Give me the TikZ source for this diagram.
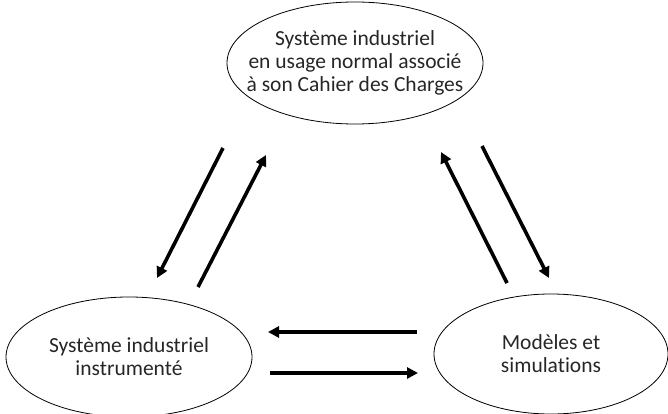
\documentclass[tikz,border=0pt]{standalone}
\usepackage{fontspec}
\setmainfont{Carlito}[Ligatures=NoCommon]
\usetikzlibrary{arrows.meta, shapes.geometric}

\tikzset{
  bulle/.style={inner sep=0pt, align=center,
    font=\fontsize{21.5pt}{23pt}\selectfont, text=black!85},
  contour/.style={line width=0.8pt},
  fleche/.style={-{Triangle[length=11pt,width=11pt]}, line width=3.6pt}
}

\begin{document}
\begin{tikzpicture}[x=1pt, y=-1pt]
      \useasboundingbox (0,0) rectangle (668,414);

      \node[bulle] (cdc) at (355,63)
        {Système industriel\\en usage normal associé\\à son Cahier des Charges};
      \node[bulle] (instr) at (129,357)
        {Système industriel\\instrumenté};
      \node[bulle] (modele) at (551,354)
        {Modèles et\\simulations};

      % contours
      \draw[contour] (cdc.center) ellipse [x radius=128, y radius=61];
      \draw[contour] (instr.center) ellipse [x radius=123, y radius=60];
      \draw[contour] (modele.center) ellipse [x radius=117, y radius=60];

      % couple gauche
      \coordinate (g1) at (223,148); \coordinate (g2) at (157,278);
      \coordinate (g3) at (198,287); \coordinate (g4) at (266,155);
      % couple droit
      \coordinate (d1) at (507,283); \coordinate (d2) at (441,152);
      \coordinate (d3) at (482,146); \coordinate (d4) at (549,278);
      % couple bas
      \coordinate (b1) at (417,332); \coordinate (b2) at (268,332);
      \coordinate (b3) at (270,373); \coordinate (b4) at (418,373);

      \draw[fleche] (g1) -- (g2);
      \draw[fleche] (g3) -- (g4);
      \draw[fleche] (d1) -- (d2);
      \draw[fleche] (d3) -- (d4);
      \draw[fleche] (b1) -- (b2);
      \draw[fleche] (b3) -- (b4);
\end{tikzpicture}
\end{document}
